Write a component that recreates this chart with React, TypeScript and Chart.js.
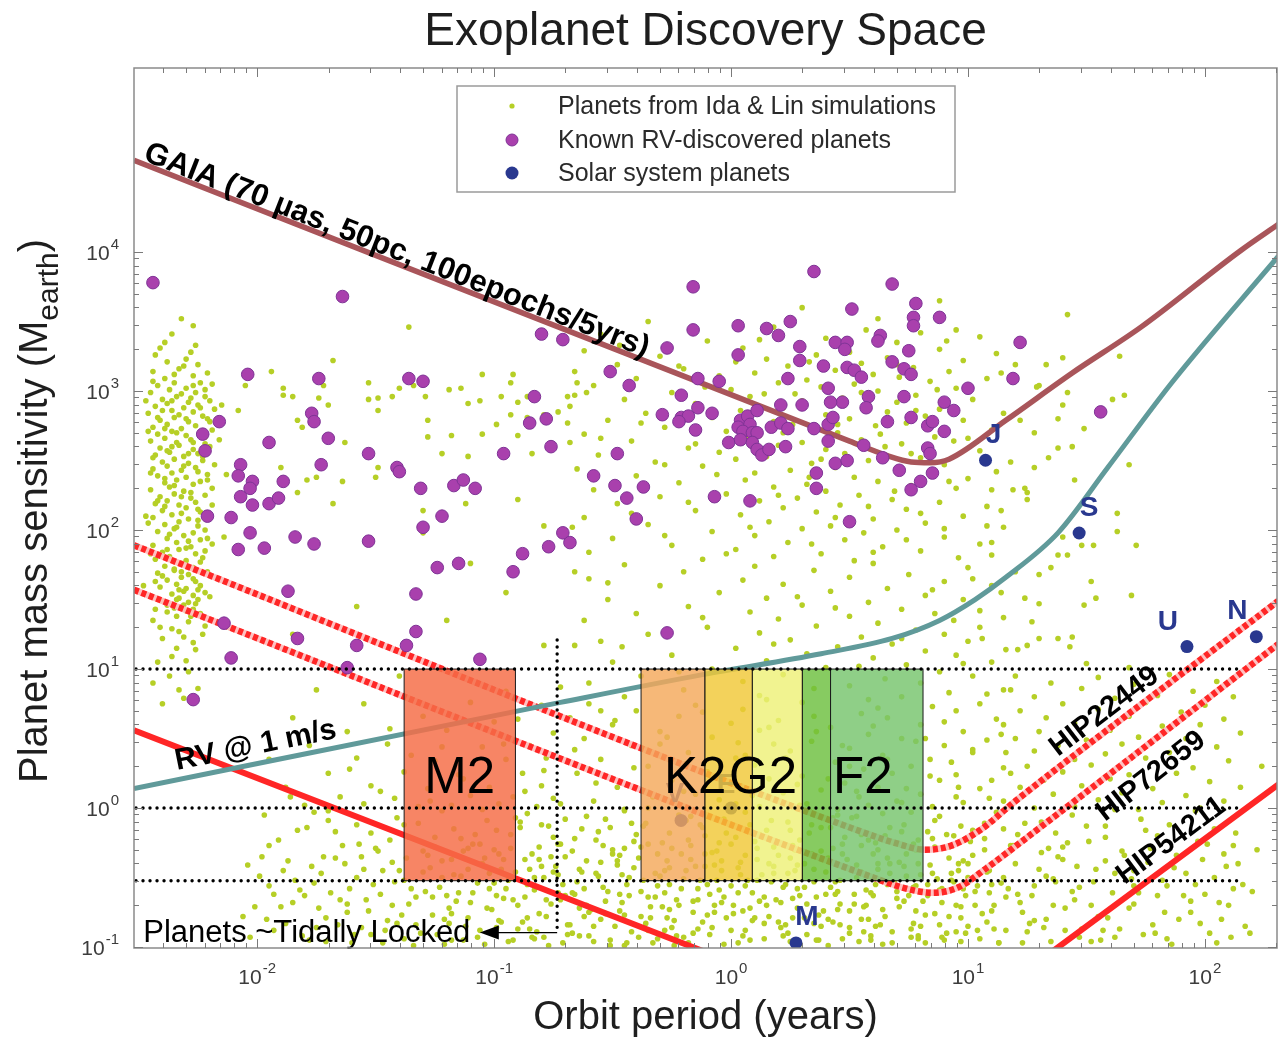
import React, { useEffect, useRef } from "react";
import { Chart, registerables } from "chart.js";

Chart.register(...registerables);

// ---------------- axis ranges (period in years, mass in Earth masses) ----------------
const X_MIN = 0.00302;
const X_MAX = 201.5;
const Y_MIN = 0.0984;
const Y_MAX = 211000;
const X_TICK_EXPONENTS = [-2, -1, 0, 1, 2];
const Y_TICK_EXPONENTS = [-1, 0, 1, 2, 3, 4];

const TITLE = "Exoplanet Discovery Space";
const X_TITLE = "Orbit period (years)";
const Y_TITLE_MAIN = "Planet mass sensitivity (M";
const Y_TITLE_SUB = "earth";
const LEGEND_LABELS = [
  "Planets from Ida & Lin simulations",
  "Known RV-discovered planets",
  "Solar system planets",
];

// ---------------- solar system planets ----------------
const SOLAR_NAMES = ["V", "E", "M", "J", "S", "U", "N"];
const SOLAR_PERIOD = [0.615, 1.0, 1.88, 11.86, 29.46, 84.0, 164.8];
const SOLAR_MASS = [0.815, 1.0, 0.107, 317.8, 95.2, 14.5, 17.1];

// ---------------- sensitivity curves: [log10 period, log10 mass] ----------------
const GAIA_CURVE = [
  [-2.52, 4.66], [0.5, 2.64], [0.66, 2.535], [0.76, 2.49], [0.84, 2.485], [0.92, 2.51],
  [1.16, 2.79], [1.44, 3.13], [1.73, 3.46], [2.15, 4.01], [2.31, 4.2],
];
const RV_CURVE = [
  [-2.52, 0.14], [-0.72, 0.76], [-0.12, 0.96], [0.38, 1.11], [0.68, 1.22], [0.88, 1.35],
  [1.03, 1.5], [1.16, 1.66], [1.38, 1.98], [1.59, 2.45], [1.86, 3.06], [2.31, 3.97],
];
const HIP22449_CURVE = [
  [-2.52, 1.89], [0.55, -0.17], [0.7, -0.255], [0.82, -0.3], [0.93, -0.27], [1.05, -0.16],
  [1.2, 0.05], [2.31, 1.49],
];
const HIP72659_CURVE = [
  [-2.52, 1.57], [0.6, -0.5], [0.74, -0.58], [0.85, -0.61], [0.96, -0.57], [1.08, -0.43],
  [1.22, -0.25], [2.31, 1.18],
];
const HIP54211_CURVE = [[-2.52, 0.56], [0.85, -1.67], [2.31, 0.17]];

// ---------------- habitable-zone boxes ----------------
const HZ_MASS_RANGE = [0.3, 10];
const M2_PERIOD_EDGES = [0.0417, 0.123];
const HZ_PERIOD_EDGES = [0.417, 0.776, 1.23, 2.0, 2.63, 6.46];
const HZ_LABELS = ["K2", "G2", "F2"];
const HZ_LABEL_PERIOD = [0.705, 1.365, 3.6];
const REF_MASS_LINES = [10, 1, 0.3];
const REF_LINE_END_PERIOD = 140;
const TIDAL_PERIOD = 0.1845;
const TIDAL_MASS_RANGE = [0.127, 16.2];
const TIDAL_ARROW_TIP = 0.087;

// ---------------- known RV planets: [log10 P, log10 M] ----------------
const RV_PLANETS = [
  [-2.44, 3.78], [-1.64, 3.68], [-0.8, 3.41], [-0.71, 3.37], [-2.04, 3.12], [-1.74, 3.09], [-1.36, 3.09], [-1.3, 3.07],
  [-0.83, 2.96], [-2.16, 2.78], [-1.77, 2.84], [-1.76, 2.78], [-0.85, 2.77], [-0.78, 2.8], [-2.23, 2.69], [-2.22, 2.57],
  [-1.95, 2.63], [-1.7, 2.66], [-0.76, 2.6], [-1.53, 2.55], [-1.73, 2.47], [-0.96, 2.55], [-2.07, 2.47], [-2.08, 2.39],
  [-2.02, 2.35], [-2.03, 2.3], [-1.89, 2.35], [-1.41, 2.45], [-1.4, 2.42], [-1.31, 2.3], [-1.17, 2.32], [-1.13, 2.36],
  [-1.08, 2.3], [-2.07, 2.24], [-2.02, 2.18], [-1.95, 2.19], [-1.91, 2.23], [-2.21, 2.1], [-2.11, 2.09], [-1.22, 2.1],
  [-1.3, 2.02], [-2.03, 1.98], [-1.84, 1.95], [-1.76, 1.9], [-1.53, 1.92], [-2.08, 1.86], [-1.97, 1.87], [-0.71, 1.98],
  [-0.68, 1.91], [-0.77, 1.88], [-0.88, 1.83], [-1.24, 1.73], [-1.15, 1.76], [-0.92, 1.7], [-1.87, 1.56], [-1.33, 1.54],
  [-2.14, 1.33], [-1.33, 1.27], [-1.83, 1.22], [-1.58, 1.17], [-1.37, 1.17], [-2.11, 1.08], [-1.06, 1.07], [-1.62, 1.01],
  [-2.27, 0.78], [0.35, 3.86], [-0.16, 3.75], [0.68, 3.77], [0.78, 3.63], [0.51, 3.59], [0.77, 3.53], [0.77, 3.47],
  [0.88, 3.53], [-0.16, 3.44], [0.03, 3.47], [0.15, 3.45], [0.25, 3.5], [0.2, 3.4], [-0.27, 3.31], [0.29, 3.32],
  [0.44, 3.35], [0.49, 3.35], [0.48, 3.3], [0.63, 3.4], [0.62, 3.36], [0.75, 3.29], [1.22, 3.35], [0.03, 3.26],
  [0.29, 3.22], [0.68, 3.21], [0.39, 3.18], [0.49, 3.17], [0.52, 3.15], [0.55, 3.1], [0.73, 3.16], [0.76, 3.12],
  [1.19, 3.09], [-0.51, 3.14], [-0.14, 3.09], [-0.05, 3.07], [0.24, 3.09], [-0.43, 3.04], [0.41, 3.02], [1.0, 3.02],
  [-0.21, 2.97], [0.58, 2.96], [0.73, 2.96], [0.9, 2.92], [0.47, 2.92], [0.42, 2.92], [0.21, 2.9], [0.3, 2.9],
  [0.57, 2.88], [-0.14, 2.88], [0.94, 2.86], [-0.29, 2.83], [-0.21, 2.81], [-0.18, 2.82], [-0.22, 2.78], [-0.08, 2.84],
  [0.04, 2.79], [0.07, 2.82], [0.11, 2.86], [0.03, 2.74], [0.08, 2.76], [0.05, 2.71], [0.09, 2.7], [0.11, 2.7],
  [-0.15, 2.72], [0.17, 2.74], [0.21, 2.77], [0.24, 2.73], [0.35, 2.73], [0.41, 2.76], [0.43, 2.81], [0.66, 2.78],
  [0.76, 2.81], [0.83, 2.75], [0.85, 2.78], [0.9, 2.71], [0.56, 2.61], [0.41, 2.64], [-0.01, 2.63], [0.04, 2.65],
  [0.09, 2.63], [0.11, 2.58], [0.13, 2.54], [0.16, 2.58], [0.23, 2.6], [-0.48, 2.55], [0.83, 2.59], [0.84, 2.55],
  [0.64, 2.52], [0.44, 2.48], [0.49, 2.5], [0.71, 2.43], [0.85, 2.41], [0.8, 2.35], [0.76, 2.29], [0.36, 2.41],
  [0.36, 2.3], [-0.58, 2.39], [-0.49, 2.32], [-0.37, 2.31], [-0.44, 2.23], [-0.07, 2.24], [0.08, 2.21], [-0.4, 2.08],
  [0.5, 2.06], [1.56, 2.85], [-0.27, 1.26],
];

// ---------------- simulated planets (Ida & Lin): [log10 P, log10 M] ----------------
const SIM_HOT = [
  [-2.36, 3.41], [-2.41, 3.31], [-2.28, 3.28], [-2.3, 3.23], [-2.25, 3.19], [-2.38, 3.21], [-2.44, 3.14], [-2.33, 3.16],
  [-2.21, 3.13], [-2.39, 3.09], [-2.27, 3.11], [-2.24, 3.06], [-2.42, 3.04], [-2.35, 3.06], [-2.3, 3.02], [-2.19, 3.05],
  [-2.45, 2.99], [-2.37, 3.01], [-2.32, 2.98], [-2.26, 2.99], [-2.22, 2.96], [-2.4, 2.94], [-2.34, 2.96], [-2.29, 2.92],
  [-2.2, 2.93], [-2.43, 2.89], [-2.38, 2.91], [-2.31, 2.88], [-2.25, 2.9], [-2.18, 2.87], [-2.46, 2.84], [-2.36, 2.86],
  [-2.33, 2.83], [-2.27, 2.85], [-2.23, 2.82], [-2.41, 2.79], [-2.35, 2.81], [-2.29, 2.78], [-2.21, 2.8], [-2.44, 2.74],
  [-2.38, 2.76], [-2.32, 2.73], [-2.26, 2.75], [-2.19, 2.72], [-2.42, 2.69], [-2.36, 2.71], [-2.3, 2.68], [-2.24, 2.7],
  [-2.45, 2.64], [-2.39, 2.66], [-2.34, 2.63], [-2.28, 2.65], [-2.22, 2.62], [-2.41, 2.59], [-2.33, 2.61], [-2.27, 2.58],
  [-2.2, 2.6], [-2.43, 2.54], [-2.37, 2.56], [-2.31, 2.53], [-2.25, 2.55], [-2.4, 2.49], [-2.35, 2.51], [-2.29, 2.48],
  [-2.23, 2.5], [-2.18, 2.47], [-2.44, 2.44], [-2.38, 2.46], [-2.32, 2.43], [-2.26, 2.45], [-2.42, 2.39], [-2.36, 2.41],
  [-2.3, 2.38], [-2.21, 2.4], [-2.39, 2.34], [-2.34, 2.36], [-2.27, 2.33], [-2.24, 2.35], [-2.45, 2.29], [-2.37, 2.31],
  [-2.31, 2.28], [-2.19, 2.3], [-2.41, 2.24], [-2.35, 2.26], [-2.28, 2.23], [-2.22, 2.25], [-2.43, 2.19], [-2.38, 2.21],
  [-2.33, 2.18], [-2.26, 2.2], [-2.4, 2.14], [-2.3, 2.16], [-2.24, 2.13], [-2.44, 2.09], [-2.36, 2.11], [-2.29, 2.08],
  [-2.2, 2.1], [-2.39, 2.04], [-2.33, 2.06], [-2.25, 2.03], [-2.42, 1.99], [-2.35, 2.01], [-2.27, 1.98], [-2.22, 2.0],
  [-2.38, 1.94], [-2.31, 1.96], [-2.24, 1.93], [-2.44, 1.89], [-2.34, 1.91], [-2.28, 1.88], [-2.19, 1.9], [-2.4, 1.84],
  [-2.33, 1.86], [-2.26, 1.83], [-2.43, 1.79], [-2.37, 1.81], [-2.3, 1.78], [-2.23, 1.8], [-2.39, 1.74], [-2.32, 1.76],
  [-2.27, 1.73], [-2.42, 1.69], [-2.35, 1.71], [-2.29, 1.68], [-2.21, 1.7], [-2.38, 1.64], [-2.32, 1.66], [-2.26, 1.63],
  [-2.41, 1.59], [-2.34, 1.61], [-2.3, 1.58], [-2.24, 1.6], [-2.36, 1.54], [-2.31, 1.56], [-2.27, 1.53], [-2.22, 1.55],
  [-2.4, 1.49], [-2.33, 1.51], [-2.29, 1.48], [-2.25, 1.5], [-2.35, 1.44], [-2.31, 1.46], [-2.27, 1.43], [-2.38, 1.41],
  [-2.3, 1.42], [-2.24, 1.4], [-2.44, 1.35], [-2.29, 1.34], [-2.36, 1.29], [-2.22, 1.31], [-2.4, 1.22], [-2.31, 1.23],
  [-2.34, 1.15], [-2.26, 1.14], [-2.42, 1.05], [-2.3, 1.06], [-2.37, 0.95], [-2.33, 0.85], [-2.25, 0.86], [-2.4, 0.75],
  [-2.47, 2.1], [-2.48, 1.6], [-2.15, 2.9], [-2.13, 2.4], [-2.14, 1.95], [-2.12, 1.3], [-2.32, 3.52], [-2.27, 3.47],
];
const SIM_HOT_EXTRA = [
  [-2.43, 3.26], [-2.26, 3.33], [-2.35, 3.12], [-2.22, 3.01], [-2.47, 2.93], [-2.28, 2.95], [-2.4, 2.86], [-2.2, 2.78],
  [-2.34, 2.7], [-2.46, 2.71], [-2.27, 2.63], [-2.38, 2.57], [-2.23, 2.53], [-2.31, 2.46], [-2.45, 2.41], [-2.21, 2.36],
  [-2.35, 2.32], [-2.28, 2.27], [-2.42, 2.21], [-2.19, 2.18], [-2.32, 2.12], [-2.46, 2.05], [-2.25, 2.07], [-2.37, 1.97],
  [-2.21, 1.94], [-2.3, 1.87], [-2.45, 1.83], [-2.24, 1.77], [-2.35, 1.72], [-2.27, 1.65], [-2.43, 1.63], [-2.33, 1.57],
  [-2.2, 1.52], [-2.38, 1.46], [-2.28, 1.38], [-2.41, 1.3], [-2.33, 1.27], [-2.27, 1.19], [-2.36, 1.09], [-2.29, 0.98],
  [-2.44, 0.9], [-2.31, 0.79], [-2.39, 3.35], [-2.31, 3.18], [-2.44, 3.07], [-2.27, 3.04], [-2.36, 2.93], [-2.24, 2.88],
  [-2.42, 2.81], [-2.3, 2.8], [-2.39, 2.73], [-2.22, 2.67], [-2.36, 2.6], [-2.29, 2.55], [-2.44, 2.52], [-2.25, 2.42],
  [-2.39, 2.37], [-2.32, 2.24], [-2.25, 2.15], [-2.39, 2.17], [-2.34, 2.02], [-2.29, 1.92], [-2.38, 1.86], [-2.22, 1.85],
  [-2.32, 1.7], [-2.4, 1.67], [-2.25, 1.57], [-2.34, 1.5], [-2.26, 1.47], [-2.43, 1.43], [-2.34, 1.38], [-2.23, 1.25],
];
const SIM_UPPER_LEFT = [
  [-1.36, 3.46], [-1.68, 3.22], [-1.94, 3.14], [-2.05, 3.04], [-1.72, 3.04], [-1.89, 3.02], [-1.89, 2.97], [-1.85, 2.96],
  [-1.74, 2.95], [-1.7, 2.9], [-2.08, 2.86], [-1.53, 3.06], [-1.49, 2.95], [-1.53, 2.94], [-1.43, 2.96], [-1.4, 3.02],
  [-1.34, 3.04], [-1.49, 2.86], [-1.19, 3.01], [-1.14, 3.02], [-1.11, 2.91], [-1.05, 3.12], [-1.06, 2.93], [-0.92, 3.12],
  [-0.93, 3.06], [-0.97, 2.96], [-0.9, 2.92], [-0.86, 2.96], [-0.86, 2.81], [-0.93, 2.83], [-0.99, 2.76], [-0.79, 2.83],
  [-0.73, 2.85], [-0.69, 2.96], [-0.65, 3.06], [-0.66, 2.97], [-0.69, 2.77], [-0.68, 2.63], [-0.84, 2.55], [-0.9, 2.68],
  [-1.05, 2.69], [-1.18, 2.68], [-1.11, 2.53], [-1.22, 2.55], [-1.28, 2.79], [-1.28, 2.67], [-1.3, 2.14], [-1.3, 1.98],
  [-1.12, 2.19], [-0.9, 2.22], [-0.79, 2.03], [-0.67, 2.02], [-1.1, 1.76], [-0.66, 1.7], [-1.64, 2.35], [-1.63, 2.63],
  [-1.79, 2.36], [-1.75, 2.38], [-1.83, 2.27], [-1.9, 2.45], [-1.68, 2.19], [-1.49, 2.45], [-1.5, 2.38], [-1.83, 2.79],
  [-1.81, 2.74], [-1.29, 2.96], [-2.16, 2.65], [-0.79, 1.17], [-0.66, 1.17], [-0.72, 0.87], [-1.58, 1.45], [-1.2, 1.35],
  [-0.95, 1.55], [-1.85, 1.25],
];
const SIM_CLOUD = [
  [-0.35, 3.5], [0.62, 3.52], [0.18, 3.46], [0.95, 3.44], [-0.55, 3.41], [0.4, 3.38], [0.8, 3.42], [1.05, 3.39],
  [-0.1, 3.36], [0.28, 3.33], [0.7, 3.35], [-0.62, 3.29], [0.05, 3.31], [0.5, 3.28], [0.88, 3.3], [1.12, 3.27],
  [-0.3, 3.25], [0.15, 3.23], [0.36, 3.26], [0.66, 3.24], [0.98, 3.22], [-0.48, 3.19], [0.02, 3.21], [0.24, 3.18],
  [0.55, 3.2], [0.77, 3.17], [1.2, 3.19], [-0.66, 3.14], [-0.2, 3.16], [0.1, 3.13], [0.44, 3.15], [0.6, 3.12],
  [0.92, 3.14], [-0.4, 3.09], [-0.05, 3.11], [0.32, 3.08], [0.71, 3.1], [0.84, 3.07], [1.08, 3.09], [-0.58, 3.04],
  [0.2, 3.06], [0.38, 3.03], [0.52, 3.05], [0.95, 3.02], [1.3, 3.04], [-0.25, 2.99], [0.0, 3.01], [0.14, 2.98],
  [0.62, 3.0], [0.78, 2.97], [-0.45, 2.94], [0.08, 2.96], [0.3, 2.93], [0.47, 2.95], [0.7, 2.92], [1.02, 2.94],
  [-0.68, 2.89], [-0.15, 2.91], [0.22, 2.88], [0.58, 2.9], [0.88, 2.87], [-0.36, 2.84], [0.04, 2.86], [0.4, 2.83],
  [0.66, 2.85], [0.82, 2.82], [1.15, 2.84], [-0.52, 2.79], [-0.08, 2.81], [0.18, 2.78], [0.5, 2.8], [0.74, 2.77],
  [0.98, 2.79], [-0.28, 2.74], [0.26, 2.76], [0.35, 2.73], [0.61, 2.75], [1.1, 2.72], [-0.62, 2.69], [-0.02, 2.71],
  [0.12, 2.68], [0.45, 2.7], [0.86, 2.67], [-0.42, 2.64], [0.07, 2.66], [0.3, 2.63], [0.55, 2.65], [0.72, 2.62],
  [0.94, 2.64], [-0.18, 2.59], [0.2, 2.61], [0.4, 2.58], [0.65, 2.6], [1.05, 2.57], [-0.56, 2.54], [-0.05, 2.56],
  [0.15, 2.53], [0.48, 2.55], [0.8, 2.52], [-0.32, 2.49], [0.02, 2.51], [0.34, 2.48], [0.58, 2.5], [0.9, 2.47],
  [1.18, 2.49], [-0.65, 2.44], [-0.12, 2.46], [0.25, 2.43], [0.44, 2.45], [0.7, 2.42], [-0.4, 2.39], [0.1, 2.41],
  [0.52, 2.38], [0.84, 2.4], [1.0, 2.37], [-0.22, 2.34], [0.06, 2.36], [0.32, 2.33], [0.62, 2.35], [0.76, 2.32],
  [-0.58, 2.29], [0.18, 2.31], [0.4, 2.28], [0.95, 2.3], [1.25, 2.27], [-0.3, 2.24], [-0.02, 2.26], [0.28, 2.23],
  [0.54, 2.25], [0.68, 2.22], [-0.48, 2.19], [0.12, 2.21], [0.46, 2.18], [0.88, 2.2], [1.08, 2.17], [-0.15, 2.14],
  [0.22, 2.16], [0.36, 2.13], [0.74, 2.15], [-0.62, 2.09], [0.04, 2.11], [0.6, 2.08], [0.98, 2.1], [-0.35, 2.04],
  [0.16, 2.06], [0.42, 2.03], [0.82, 2.05], [1.15, 2.02], [-0.08, 1.99], [0.3, 2.01], [0.56, 1.98], [0.7, 2.0],
  [-0.5, 1.94], [0.1, 1.96], [0.48, 1.93], [0.9, 1.95], [-0.25, 1.89], [0.24, 1.91], [0.64, 1.88], [1.05, 1.9],
  [-0.6, 1.84], [0.02, 1.86], [0.38, 1.83], [0.8, 1.85], [-0.12, 1.79], [0.18, 1.81], [0.52, 1.78], [0.96, 1.8],
  [0.3, 3.6], [0.88, 3.65],
];
const SIM_CLOUD_EXTRA = [
  [-0.47, 3.33], [0.12, 3.37], [0.57, 3.44], [0.91, 3.36], [-0.22, 3.18], [0.33, 3.21], [0.7, 3.19], [1.14, 3.13],
  [-0.61, 2.99], [-0.11, 3.03], [0.27, 2.98], [0.55, 2.99], [0.87, 3.01], [-0.38, 2.77], [0.09, 2.84], [0.45, 2.76],
  [0.78, 2.86], [1.22, 2.79], [-0.55, 2.66], [-0.15, 2.62], [0.22, 2.7], [0.63, 2.69], [1.0, 2.66], [-0.28, 2.47],
  [0.14, 2.57], [0.38, 2.51], [0.76, 2.55], [1.12, 2.42], [-0.48, 2.33], [-0.06, 2.4], [0.33, 2.38], [0.69, 2.28],
  [0.92, 2.35], [-0.18, 2.2], [0.2, 2.25], [0.58, 2.17], [0.8, 2.12], [-0.42, 2.12], [0.08, 2.02], [0.44, 2.09],
  [0.9, 2.01], [-0.28, 1.96], [0.34, 1.9], [0.74, 1.93], [-0.02, 1.83], [0.6, 1.84], [1.1, 1.82],
];
const SIM_MID = [
  [-0.45, 1.75], [0.1, 1.74], [0.6, 1.76], [1.0, 1.73], [-0.2, 1.7], [0.35, 1.71], [0.75, 1.68], [1.2, 1.7],
  [-0.6, 1.65], [0.05, 1.64], [0.5, 1.66], [0.9, 1.63], [-0.3, 1.6], [0.22, 1.61], [0.66, 1.58], [1.1, 1.6],
  [-0.05, 1.55], [0.42, 1.56], [0.82, 1.53], [-0.52, 1.5], [0.15, 1.51], [0.58, 1.48], [0.98, 1.5], [1.3, 1.47],
  [-0.18, 1.45], [0.3, 1.46], [0.72, 1.43], [-0.4, 1.4], [0.08, 1.41], [0.5, 1.38], [0.86, 1.4], [1.15, 1.37],
  [-0.62, 1.35], [0.2, 1.36], [0.62, 1.33], [0.94, 1.35], [-0.1, 1.3], [0.36, 1.31], [0.78, 1.28], [1.05, 1.3],
  [-0.35, 1.25], [0.12, 1.26], [0.55, 1.23], [0.9, 1.25], [-0.55, 1.2], [0.25, 1.21], [0.68, 1.18], [1.0, 1.2],
  [1.25, 1.17], [0.02, 1.15], [0.45, 1.16], [0.82, 1.13], [-0.25, 1.1], [0.32, 1.11], [0.6, 1.08], [0.95, 1.1],
  [-0.5, 1.05], [0.15, 1.06], [0.74, 1.03], [1.1, 1.05], [-0.08, 1.0], [0.4, 1.01], [0.88, 0.98], [-0.38, 0.95],
  [0.22, 0.96], [0.65, 0.93], [1.02, 0.95], [-0.6, 0.9], [0.05, 0.91], [0.5, 0.88], [0.8, 0.9], [-0.2, 0.85],
  [0.35, 0.86], [0.92, 0.83], [1.15, 0.85], [-0.45, 0.8], [0.12, 0.81], [0.58, 0.78], [0.72, 0.8],
  [-0.52, 1.62], [0.28, 1.52], [0.85, 1.57], [-0.12, 1.37], [0.44, 1.44], [1.05, 1.42], [-0.46, 1.16], [0.18, 1.18],
  [0.72, 1.22], [-0.22, 0.98], [0.54, 1.02], [0.98, 1.04],
];
const SIM_LOW_LEFT = [
  [-1.4, 0.95], [-1.75, 0.85], [-0.95, 0.84], [-1.55, 0.75], [-1.1, 0.76], [-0.8, 0.74], [-1.85, 0.65], [-1.3, 0.66],
  [-0.9, 0.64], [-1.62, 0.55], [-1.2, 0.56], [-0.75, 0.54], [-1.78, 0.45], [-1.45, 0.46], [-1.05, 0.44], [-0.85, 0.45],
  [-1.95, 0.35], [-1.58, 0.36], [-1.25, 0.34], [-0.95, 0.35], [-0.78, 0.36], [-1.7, 0.25], [-1.38, 0.26], [-1.15, 0.24],
  [-0.88, 0.25], [-1.88, 0.15], [-1.52, 0.16], [-1.28, 0.14], [-1.02, 0.15], [-0.8, 0.16], [-1.65, 0.08], [-1.42, 0.07],
  [-1.1, 0.09], [-0.92, 0.08], [-0.75, 0.07], [-1.8, 0.02], [-1.55, 0.03], [-1.32, 0.01], [-1.18, 0.02], [-0.98, 0.03],
  [-0.82, 0.01], [-1.86, 0.08], [-1.7, -0.02], [-1.61, 0.28], [-1.48, 0.12], [-1.35, 0.38], [-1.27, 0.05], [-1.13, 0.21],
  [-1.05, -0.01], [-0.96, 0.46], [-0.87, 0.12], [-0.79, 0.27], [-0.72, 0.03], [-1.22, 0.44], [-1.44, 0.57], [-1.0, 0.62],
];
const SIM_LOW_MID = [
  [-0.6, 0.75], [-0.15, 0.74], [0.3, 0.76], [0.85, 0.73], [1.05, 0.75], [-0.4, 0.7], [0.05, 0.71], [0.55, 0.68],
  [0.95, 0.7], [-0.68, 0.65], [-0.22, 0.66], [0.2, 0.63], [0.66, 0.65], [1.12, 0.64], [-0.5, 0.6], [0.0, 0.61],
  [0.42, 0.58], [0.8, 0.6], [-0.3, 0.55], [0.12, 0.56], [0.58, 0.53], [0.98, 0.55], [-0.62, 0.5], [-0.08, 0.51],
  [0.34, 0.48], [0.72, 0.5], [1.08, 0.49], [-0.42, 0.45], [0.18, 0.46], [0.5, 0.43], [0.9, 0.45], [-0.18, 0.4],
  [0.25, 0.41], [0.64, 0.38], [1.02, 0.4], [-0.55, 0.35], [0.02, 0.36], [0.44, 0.33], [0.84, 0.35], [-0.35, 0.3],
  [0.1, 0.31], [0.56, 0.28], [0.76, 0.3], [1.15, 0.29], [-0.65, 0.25], [-0.1, 0.26], [0.3, 0.23], [0.68, 0.25],
  [0.95, 0.24], [-0.25, 0.2], [0.16, 0.21], [0.48, 0.18], [0.88, 0.2], [-0.48, 0.15], [0.04, 0.16], [0.38, 0.13],
  [0.62, 0.15], [1.05, 0.14], [-0.15, 0.1], [0.22, 0.11], [0.54, 0.08], [0.8, 0.1], [-0.58, 0.05], [-0.05, 0.06],
  [0.32, 0.03], [0.7, 0.05], [0.98, 0.04], [-0.35, 0.0], [0.12, 0.01], [0.45, -0.01], [0.85, 0.01],
  [-0.55, 0.7], [0.15, 0.78], [0.62, 0.72], [1.08, 0.82], [-0.3, 0.46], [0.36, 0.55], [0.82, 0.5], [-0.6, 0.28],
  [0.06, 0.38], [0.5, 0.3], [0.93, 0.33], [-0.2, 0.12], [0.28, 0.17], [0.74, 0.14], [1.1, 0.2], [-0.45, -0.02],
  [0.02, 0.03], [0.58, 0.02], [0.95, 0.08],
  [-0.66, 0.42], [-0.57, 0.18], [-0.49, 0.63], [-0.41, 0.29], [-0.33, 0.08], [-0.27, 0.51], [-0.19, 0.32], [-0.12, 0.69],
  [-0.04, 0.22], [0.03, 0.47], [0.09, 0.09], [0.16, 0.58], [0.23, 0.36], [0.29, 0.02], [0.35, 0.66], [0.41, 0.21],
  [0.47, 0.45], [0.53, 0.12], [0.6, 0.59], [0.66, 0.35], [0.72, 0.04], [0.78, 0.48], [0.84, 0.23], [0.9, 0.62],
  [0.96, 0.15], [1.02, 0.42], [1.09, 0.07], [1.14, 0.53],
];
const SIM_RIGHT = [
  [1.42, 3.55], [1.64, 3.25], [1.66, 2.97], [1.61, 2.94], [1.4, 3.24], [1.33, 3.19], [1.29, 3.03], [1.42, 2.99],
  [1.4, 2.9], [1.38, 2.8], [1.49, 2.73], [1.28, 2.7], [1.38, 2.59], [1.44, 2.6], [1.34, 2.52], [1.28, 2.45],
  [1.45, 2.36], [1.68, 2.47], [1.24, 2.3], [1.25, 2.22], [1.19, 2.29], [1.14, 2.14], [1.1, 2.29], [1.63, 2.12],
  [1.63, 1.99], [1.71, 1.89], [1.53, 1.89], [1.48, 1.89], [1.4, 1.95], [1.38, 1.82], [1.42, 1.82], [1.3, 1.68],
  [1.35, 1.73], [1.52, 1.63], [1.54, 1.51], [1.49, 1.46], [1.69, 1.53], [1.24, 1.51], [1.14, 1.55], [1.1, 1.91],
  [1.08, 2.03], [1.02, 1.65], [1.27, 1.34], [1.3, 1.22], [1.38, 1.22], [1.44, 1.23], [1.43, 1.16], [1.06, 1.22],
  [1.16, 1.14], [1.21, 1.14], [1.5, 1.04], [1.68, 1.01],
  [1.2, 0.95], [1.55, 0.94], [1.85, 0.96], [1.35, 0.9], [1.7, 0.89], [2.05, 0.91], [1.18, 0.85], [1.48, 0.86],
  [1.95, 0.84], [1.28, 0.8], [1.62, 0.79], [1.8, 0.81], [2.12, 0.8], [1.4, 0.75], [1.75, 0.76], [2.0, 0.74],
  [1.22, 0.7], [1.55, 0.71], [1.9, 0.69], [1.33, 0.65], [1.68, 0.66], [2.08, 0.64], [1.15, 0.6], [1.45, 0.61],
  [1.82, 0.59], [1.98, 0.6], [1.3, 0.55], [1.6, 0.56], [2.15, 0.54], [1.2, 0.5], [1.5, 0.49], [1.72, 0.51],
  [1.92, 0.5], [1.38, 0.45], [1.65, 0.46], [2.05, 0.44], [1.16, 0.4], [1.28, 0.41], [1.58, 0.39], [1.85, 0.4],
  [1.45, 0.35], [1.75, 0.36], [2.1, 0.34], [1.25, 0.3], [1.52, 0.31], [1.95, 0.29], [1.18, 0.25], [1.4, 0.26],
  [1.68, 0.24], [1.88, 0.25], [1.32, 0.2], [1.6, 0.21], [2.02, 0.19], [1.22, 0.15], [1.48, 0.16], [1.78, 0.14],
  [2.15, 0.15], [1.36, 0.1], [1.65, 0.11], [1.92, 0.09], [1.15, 0.05], [1.55, 0.06], [1.82, 0.04], [2.08, 0.05],
  [1.28, 0.0], [1.45, 0.01], [1.72, -0.01], [1.98, 0.0], [2.2, -0.6], [2.22, -0.3], [2.19, -0.9], [2.24, 0.3],
];
const SIM_BAND_1 = [
  [-1.97, -0.05], [-1.83, -0.16], [-1.76, -0.03], [-1.64, -0.27], [-1.58, -0.12], [-1.49, -0.31], [-1.41, -0.07], [-1.36, -0.21],
  [-1.28, -0.34], [-1.22, -0.02], [-1.17, -0.15], [-1.09, -0.26], [-1.03, -0.09], [-0.98, -0.33], [-0.93, -0.19], [-0.86, -0.04],
  [-0.81, -0.28], [-0.77, -0.13], [-0.7, -0.35], [-0.66, -0.22], [-0.61, -0.06], [-0.56, -0.17], [-0.5, -0.3], [-0.45, -0.01],
  [-0.41, -0.24], [-0.36, -0.11], [-0.31, -0.33], [-0.26, -0.18], [-0.22, -0.05], [-0.17, -0.27], [-0.12, -0.14], [-0.08, -0.32],
  [-0.03, -0.08], [0.02, -0.21], [0.06, -0.03], [0.11, -0.29], [0.15, -0.16], [0.2, -0.34], [0.24, -0.1], [0.29, -0.23],
  [0.33, -0.02], [0.38, -0.31], [0.42, -0.14], [0.47, -0.26], [0.51, -0.07], [0.55, -0.19], [0.6, -0.33], [0.64, -0.04],
  [0.69, -0.25], [0.73, -0.12], [0.78, -0.3], [0.83, -0.17], [0.88, -0.06], [0.92, -0.28], [0.97, -0.13], [1.02, -0.34],
  [1.07, -0.22], [1.12, -0.03], [1.18, -0.27], [1.24, -0.11], [1.31, -0.32], [1.37, -0.18], [1.44, -0.05], [1.51, -0.24],
  [1.58, -0.13], [1.65, -0.31], [1.73, -0.08], [1.8, -0.2], [1.88, -0.34], [1.96, -0.02], [2.04, -0.15], [2.12, -0.27],
  [-1.91, -0.23], [-1.7, -0.09], [-1.52, -0.18], [-1.32, -0.11], [-1.13, -0.31], [-0.89, -0.1], [-0.73, -0.26], [-0.53, -0.08],
  [-0.38, -0.28], [-0.19, -0.09], [-0.05, -0.25], [0.08, -0.12], [0.27, -0.3], [0.45, -0.05], [0.58, -0.23], [0.76, -0.03],
  [0.94, -0.2], [1.15, -0.15], [1.4, -0.28], [1.62, -0.01], [1.85, -0.12], [2.08, -0.33],
];
const SIM_BAND_2 = [
  [-2.04, -0.41], [-1.95, -0.56], [-1.87, -0.38], [-1.8, -0.63], [-1.73, -0.47], [-1.67, -0.36], [-1.61, -0.58], [-1.55, -0.44],
  [-1.48, -0.62], [-1.43, -0.39], [-1.38, -0.52], [-1.33, -0.64], [-1.27, -0.43], [-1.23, -0.57], [-1.18, -0.37], [-1.14, -0.49],
  [-1.09, -0.61], [-1.05, -0.4], [-1.0, -0.54], [-0.96, -0.65], [-0.91, -0.46], [-0.87, -0.37], [-0.83, -0.59], [-0.79, -0.5],
  [-0.74, -0.42], [-0.7, -0.63], [-0.65, -0.53], [-0.61, -0.38], [-0.57, -0.47], [-0.52, -0.6], [-0.48, -0.41], [-0.44, -0.55],
  [-0.39, -0.36], [-0.35, -0.64], [-0.3, -0.49], [-0.26, -0.43], [-0.21, -0.58], [-0.17, -0.37], [-0.13, -0.52], [-0.09, -0.62],
  [-0.04, -0.45], [0.0, -0.56], [0.04, -0.39], [0.09, -0.61], [0.13, -0.48], [0.18, -0.42], [0.22, -0.57], [0.26, -0.65],
  [0.31, -0.4], [0.35, -0.53], [0.4, -0.46], [0.44, -0.62], [0.49, -0.37], [0.53, -0.5], [0.57, -0.59], [0.62, -0.44],
  [0.66, -0.55], [0.71, -0.39], [0.75, -0.63], [0.8, -0.48], [0.84, -0.41], [0.89, -0.58], [0.93, -0.52], [0.98, -0.38],
  [1.03, -0.6], [1.08, -0.46], [1.14, -0.54], [1.2, -0.4], [1.27, -0.63], [1.33, -0.49], [1.4, -0.37], [1.47, -0.57],
  [1.54, -0.44], [1.61, -0.61], [1.69, -0.51], [1.76, -0.39], [1.84, -0.56], [1.92, -0.47], [2.0, -0.62], [2.09, -0.42],
  [2.16, -0.55], [-1.99, -0.49], [-1.76, -0.54], [-1.58, -0.5], [-1.4, -0.45], [-1.2, -0.63], [-1.02, -0.47], [-0.85, -0.44],
  [-0.67, -0.61], [-0.46, -0.48], [-0.28, -0.61], [-0.11, -0.42], [0.07, -0.52], [0.24, -0.47], [0.42, -0.57], [0.6, -0.63],
  [0.78, -0.56], [0.96, -0.45], [1.17, -0.58], [1.37, -0.53], [1.58, -0.38], [1.8, -0.63], [2.04, -0.5],
];
const SIM_BAND_3 = [
  [-2.01, -0.71], [-1.93, -0.88], [-1.85, -0.68], [-1.78, -0.95], [-1.71, -0.79], [-1.65, -0.66], [-1.59, -0.91], [-1.53, -0.74],
  [-1.47, -0.97], [-1.41, -0.83], [-1.36, -0.69], [-1.31, -0.9], [-1.26, -0.77], [-1.21, -0.98], [-1.16, -0.67], [-1.12, -0.85],
  [-1.07, -0.93], [-1.03, -0.72], [-0.98, -0.81], [-0.94, -0.96], [-0.9, -0.7], [-0.85, -0.87], [-0.81, -0.76], [-0.77, -0.99],
  [-0.72, -0.66], [-0.68, -0.84], [-0.64, -0.92], [-0.59, -0.73], [-0.55, -0.8], [-0.51, -0.95], [-0.46, -0.68], [-0.42, -0.89],
  [-0.38, -0.78], [-0.33, -0.97], [-0.29, -0.71], [-0.25, -0.86], [-0.2, -0.93], [-0.16, -0.67], [-0.12, -0.82], [-0.07, -0.75],
  [-0.03, -0.98], [0.01, -0.7], [0.06, -0.88], [0.1, -0.79], [0.14, -0.94], [0.19, -0.66], [0.23, -0.84], [0.28, -0.72],
  [0.32, -0.91], [0.37, -0.77], [0.41, -0.99], [0.46, -0.69], [0.5, -0.86], [0.55, -0.8], [0.59, -0.95], [0.64, -0.73],
  [0.68, -0.89], [0.73, -0.67], [0.77, -0.83], [0.82, -0.97], [0.86, -0.76], [0.91, -0.9], [0.95, -0.7], [1.0, -0.85],
  [1.05, -0.94], [1.1, -0.74], [1.16, -0.88], [1.22, -0.68], [1.28, -0.81], [1.35, -0.96], [1.41, -0.72], [1.48, -0.87],
  [1.55, -0.78], [1.62, -0.93], [1.7, -0.69], [1.78, -0.84], [1.86, -0.98], [1.94, -0.75], [2.02, -0.9], [2.1, -0.7],
  [2.17, -0.85], [-1.96, -0.8], [-1.74, -0.72], [-1.56, -0.86], [-1.38, -0.94], [-1.18, -0.76], [-1.0, -0.91], [-0.83, -0.94],
  [-0.62, -0.78], [-0.45, -0.99], [-0.27, -0.79], [-0.09, -0.91], [0.08, -0.72], [0.25, -0.96], [0.43, -0.82], [0.61, -0.85],
  [0.79, -0.92], [0.97, -0.79], [1.13, -0.97], [1.32, -0.86], [1.52, -0.96], [1.74, -0.91], [1.98, -0.83],
];
const SIM_BAND_4 = [
  [-1.93, -0.62], [-1.72, -0.35], [-1.66, -0.84], [-1.51, -0.55], [-1.44, -0.23], [-1.39, -0.77], [-1.3, -0.46], [-1.24, -0.91],
  [-1.15, -0.61], [-1.08, -0.19], [-1.01, -0.73], [-0.97, -0.44], [-0.9, -0.87], [-0.86, -0.55], [-0.8, -0.12], [-0.76, -0.69],
  [-0.71, -0.97], [-0.67, -0.31], [-0.62, -0.58], [-0.58, -0.85], [-0.55, -0.39], [-0.51, -0.14], [-0.47, -0.74], [-0.43, -0.5],
  [-0.39, -0.93], [-0.35, -0.26], [-0.32, -0.64], [-0.28, -0.45], [-0.24, -0.81], [-0.21, -0.33], [-0.18, -0.97], [-0.14, -0.58],
  [-0.11, -0.2], [-0.07, -0.7], [-0.04, -0.38], [0.0, -0.88], [0.03, -0.61], [0.07, -0.16], [0.11, -0.52], [0.14, -0.83],
  [0.18, -0.28], [0.21, -0.68], [0.24, -0.9], [0.28, -0.41], [0.31, -0.57], [0.34, -0.12], [0.38, -0.85], [0.41, -0.36],
  [0.45, -0.73], [0.48, -0.21], [0.52, -0.62], [0.55, -0.46], [0.59, -0.92], [0.62, -0.3], [0.65, -0.78], [0.69, -0.54],
  [0.72, -0.17], [0.76, -0.87], [0.79, -0.4], [0.83, -0.63], [0.86, -0.28], [0.9, -0.95], [0.93, -0.47], [0.97, -0.71],
  [1.01, -0.24], [1.04, -0.56], [1.08, -0.82], [1.12, -0.38], [1.16, -0.64], [1.21, -0.19], [1.25, -0.89], [1.3, -0.44],
  [1.36, -0.7], [1.42, -0.25], [1.47, -0.93], [1.53, -0.53], [1.59, -0.79], [1.66, -0.34], [1.72, -0.61], [1.79, -0.9],
  [1.87, -0.43], [1.94, -0.67], [2.01, -0.26], [2.07, -0.8], [2.14, -0.4],
  [-2.06, -0.78], [-1.89, -0.45], [-1.81, -0.92], [-1.62, -0.69], [-1.57, -0.26], [-1.46, -0.88], [-1.35, -0.58], [-1.19, -0.83],
  [-1.11, -0.29], [-0.99, -0.63], [-0.93, -0.29], [-0.82, -0.89], [-0.73, -0.48], [-0.64, -0.72], [-0.53, -0.67], [-0.45, -0.29],
  [-0.36, -0.83], [-0.26, -0.55], [-0.16, -0.75], [-0.06, -0.52], [0.05, -0.74], [0.16, -0.4], [0.26, -0.79], [0.36, -0.64],
  [0.47, -0.94], [0.57, -0.7], [0.67, -0.4], [0.78, -0.74], [0.88, -0.59], [0.99, -0.9], [1.1, -0.55], [1.23, -0.75],
  [1.34, -0.29], [1.45, -0.66], [1.57, -0.88], [1.7, -0.45], [1.83, -0.75], [1.96, -0.55], [2.11, -0.93],
];
const SIM_BAND_5 = [
  [-2.03, -0.93], [-1.98, -0.35], [-1.9, -0.71], [-1.84, -0.52], [-1.79, -0.14], [-1.75, -0.86], [-1.69, -0.61], [-1.63, -0.4],
  [-1.6, -0.97], [-1.54, -0.66], [-1.5, -0.29], [-1.45, -0.81], [-1.42, -0.53], [-1.37, -0.36], [-1.34, -0.99], [-1.29, -0.6],
  [-1.25, -0.21], [-1.21, -0.8], [-1.17, -0.48], [-1.13, -0.95], [-1.1, -0.68], [-1.06, -0.26], [-1.02, -0.58], [-0.99, -0.86],
  [-0.96, -0.37], [-0.92, -0.66], [-0.89, -0.14], [-0.86, -0.79], [-0.83, -0.5], [-0.79, -0.93], [-0.76, -0.35], [-0.73, -0.61],
  [-0.7, -0.08], [-0.67, -0.9], [-0.64, -0.44], [-0.61, -0.7], [-0.57, -0.23], [-0.54, -0.57], [-0.51, -0.99], [-0.48, -0.38],
  [-0.45, -0.77], [-0.42, -0.11], [-0.38, -0.6], [-0.35, -0.88], [-0.32, -0.47], [-0.29, -0.25], [-0.26, -0.73], [-0.23, -0.92],
  [-0.2, -0.51], [-0.17, -0.06], [-0.14, -0.66], [-0.11, -0.33], [-0.08, -0.86], [-0.05, -0.59], [-0.02, -0.18], [0.01, -0.76],
  [0.04, -0.48], [0.08, -0.95], [0.11, -0.37], [0.14, -0.64], [0.17, -0.09], [0.2, -0.82], [0.23, -0.55], [0.26, -0.27],
  [0.29, -0.98], [0.32, -0.69], [0.35, -0.44], [0.38, -0.14], [0.41, -0.8], [0.44, -0.53], [0.47, -0.33], [0.5, -0.74],
  [0.53, -0.06], [0.56, -0.89], [0.59, -0.61], [0.62, -0.4], [0.65, -0.2], [0.68, -0.97], [0.71, -0.71], [0.74, -0.49],
  [0.77, -0.26], [0.8, -0.85], [0.83, -0.55], [0.86, -0.09], [0.89, -0.68], [0.92, -0.36], [0.95, -0.89], [0.98, -0.58],
  [1.02, -0.16], [1.06, -0.76], [1.09, -0.45], [1.13, -0.97], [1.17, -0.32], [1.21, -0.62], [1.26, -0.83], [1.31, -0.1],
  [1.36, -0.51], [1.41, -0.88], [1.46, -0.42], [1.52, -0.7], [1.58, -0.21], [1.64, -0.87], [1.7, -0.56], [1.77, -0.29],
  [1.84, -0.94], [1.91, -0.63], [1.99, -0.37], [2.06, -0.68], [2.13, -0.18],
];
const SIM_BAND_6 = [
  [-1.95, -0.27], [-1.88, -0.83], [-1.82, -0.59], [-1.77, -0.42], [-1.71, -0.96], [-1.67, -0.17], [-1.62, -0.75], [-1.56, -0.35],
  [-1.52, -0.91], [-1.47, -0.45], [-1.43, -0.7], [-1.38, -0.12], [-1.33, -0.84], [-1.3, -0.31], [-1.26, -0.64], [-1.22, -0.38],
  [-1.18, -0.95], [-1.14, -0.22], [-1.11, -0.79], [-1.07, -0.54], [-1.04, -0.98], [-1.0, -0.3], [-0.97, -0.82], [-0.94, -0.52],
  [-0.91, -0.07], [-0.87, -0.64], [-0.84, -0.93], [-0.81, -0.37], [-0.78, -0.78], [-0.75, -0.46], [-0.72, -0.26], [-0.69, -0.84],
  [-0.66, -0.62], [-0.63, -0.15], [-0.6, -0.92], [-0.56, -0.49], [-0.53, -0.76], [-0.5, -0.33], [-0.47, -0.62], [-0.44, -0.97],
  [-0.41, -0.43], [-0.37, -0.13], [-0.34, -0.79], [-0.31, -0.56], [-0.28, -0.88], [-0.25, -0.29], [-0.22, -0.7], [-0.19, -0.45],
  [-0.16, -0.9], [-0.13, -0.12], [-0.1, -0.77], [-0.07, -0.41], [-0.03, -0.64], [0.0, -0.26], [0.03, -0.97], [0.06, -0.56],
  [0.09, -0.81], [0.12, -0.19], [0.15, -0.7], [0.18, -0.47], [0.22, -0.92], [0.25, -0.16], [0.28, -0.58], [0.31, -0.79],
  [0.34, -0.33], [0.37, -0.95], [0.4, -0.62], [0.43, -0.07], [0.46, -0.84], [0.49, -0.43], [0.52, -0.69], [0.55, -0.27],
  [0.58, -0.8], [0.61, -0.55], [0.64, -0.98], [0.67, -0.14], [0.7, -0.65], [0.73, -0.42], [0.76, -0.93], [0.79, -0.23],
  [0.82, -0.77], [0.85, -0.47], [0.88, -0.84], [0.91, -0.19], [0.94, -0.53], [0.97, -0.96], [1.0, -0.4], [1.03, -0.7],
  [1.07, -0.11], [1.11, -0.87], [1.15, -0.5], [1.19, -0.27], [1.23, -0.97], [1.28, -0.56], [1.33, -0.8], [1.38, -0.35],
  [1.44, -0.6], [1.5, -0.13], [1.56, -0.95], [1.62, -0.47], [1.68, -0.72], [1.75, -0.16], [1.82, -0.52], [1.89, -0.8],
  [1.97, -0.24], [2.05, -0.97], [2.12, -0.58],
];
const SIM_BAND_CORE = [
  [-1.25, -0.28], [-1.19, -0.72], [-1.11, -0.44], [-1.06, -0.88], [-0.99, -0.16], [-0.95, -0.58], [-0.88, -0.82], [-0.84, -0.33],
  [-0.78, -0.66], [-0.75, -0.21], [-0.69, -0.91], [-0.63, -0.46], [-0.6, -0.75], [-0.54, -0.27], [-0.49, -0.85], [-0.43, -0.63],
  [-0.4, -0.19], [-0.34, -0.71], [-0.31, -0.94], [-0.27, -0.38], [-0.23, -0.66], [-0.18, -0.23], [-0.14, -0.87], [-0.1, -0.55],
  [-0.06, -0.31], [-0.02, -0.79], [0.03, -0.43], [0.05, -0.92], [0.1, -0.24], [0.12, -0.67], [0.17, -0.53], [0.21, -0.86],
  [0.25, -0.36], [0.29, -0.63], [0.33, -0.18], [0.36, -0.95], [0.39, -0.74], [0.43, -0.29], [0.46, -0.52], [0.5, -0.9],
  [0.53, -0.41], [0.56, -0.71], [0.61, -0.25], [0.63, -0.84], [0.67, -0.47], [0.7, -0.6], [0.74, -0.33], [0.79, -0.94],
  [0.81, -0.67], [0.85, -0.22], [0.87, -0.51], [0.92, -0.78], [0.96, -0.4], [0.99, -0.63], [1.04, -0.88], [1.07, -0.3],
  [1.11, -0.7], [-1.22, -0.5], [-1.04, -0.36], [-0.92, -0.95], [-0.8, -0.42], [-0.71, -0.55], [-0.58, -0.96], [-0.47, -0.34],
  [-0.37, -0.52], [-0.24, -0.99], [-0.15, -0.42], [-0.04, -0.68], [0.06, -0.34], [0.16, -0.78], [0.27, -0.45], [0.35, -0.83],
  [0.45, -0.6], [0.54, -0.96], [0.66, -0.36], [0.77, -0.57], [0.89, -0.93], [1.0, -0.5], [1.09, -0.61],
];

// ---------------- styling ----------------
const FONT = '"Liberation Sans", Arial, Helvetica, sans-serif';
const GREEN = "#b6cf26";
const PURPLE = "#a940ad";
const PURPLE_EDGE = "#7f3496";
const BLUE = "#29388f";
const GAIA_COLOR = "#a9555a";
const RV_COLOR = "#609a9a";
const RED = "#ff2626";
const PINK = "rgba(255,190,190,0.95)";
const M2_COLOR = "rgba(246,110,72,0.84)";
const HZ_COLORS = [
  "rgba(244,168,90,0.82)",
  "rgba(240,200,55,0.82)",
  "rgba(238,240,120,0.82)",
  "rgba(108,192,62,0.82)",
  "rgba(118,196,108,0.82)",
];

const toXY = (pairs: number[][]) => pairs.map(([lp, lm]) => ({ x: Math.pow(10, lp), y: Math.pow(10, lm) }));

const lineDs = (data: number[][], color: string, width: number, order: number, extra: any = {}) => ({
  data: toXY(data),
  showLine: true,
  pointRadius: 0,
  borderColor: color,
  borderWidth: width,
  backgroundColor: color,
  fill: false,
  cubicInterpolationMode: "monotone",
  capBezierPoints: false,
  order,
  ...extra,
});

function drawPower(ctx: CanvasRenderingContext2D, exp: number, x: number, baseY: number, align: "center" | "right") {
  const e = String(exp);
  ctx.font = `21px ${FONT}`;
  const w1 = ctx.measureText("10").width;
  ctx.font = `15px ${FONT}`;
  const w2 = ctx.measureText(e).width;
  const total = w1 + 1 + w2;
  const x0 = align === "center" ? x - total / 2 : x - total;
  ctx.textAlign = "left";
  ctx.textBaseline = "alphabetic";
  ctx.font = `21px ${FONT}`;
  ctx.fillText("10", x0, baseY);
  ctx.font = `15px ${FONT}`;
  ctx.fillText(e, x0 + w1 + 1, baseY - 11);
}

function dottedLine(ctx: CanvasRenderingContext2D, x1: number, y1: number, x2: number, y2: number) {
  ctx.save();
  ctx.strokeStyle = "#000";
  ctx.lineWidth = 3.4;
  ctx.lineCap = "round";
  ctx.setLineDash([0.01, 7]);
  ctx.beginPath();
  ctx.moveTo(x1, y1);
  ctx.lineTo(x2, y2);
  ctx.stroke();
  ctx.restore();
}

function rotText(ctx: CanvasRenderingContext2D, text: string, x: number, y: number, angle: number, font: string) {
  ctx.save();
  ctx.translate(x, y);
  ctx.rotate(angle);
  ctx.font = font;
  ctx.fillStyle = "#000";
  ctx.textAlign = "left";
  ctx.textBaseline = "alphabetic";
  ctx.fillText(text, 0, 0);
  ctx.restore();
}

const SOLAR_LABEL_OFFSETS: Record<string, number[]> = {
  V: [-6, -26], E: [-5, -23], M: [11, -26], J: [8, -25], S: [10, -25], U: [-19, -24], N: [-19, -25],
};

const overlayPlugin = {
  id: "discoveryOverlay",
  beforeDraw(chart: any) {
    const ctx = chart.ctx;
    ctx.save();
    ctx.fillStyle = "#fff";
    ctx.fillRect(0, 0, chart.width, chart.height);
    ctx.restore();
  },
  afterDatasetsDraw(chart: any) {
    const ctx: CanvasRenderingContext2D = chart.ctx;
    const xs = chart.scales.x;
    const ys = chart.scales.y;
    const X = (lp: number) => xs.getPixelForValue(Math.pow(10, lp));
    const Y = (lm: number) => ys.getPixelForValue(Math.pow(10, lm));
    const px = (v: number) => xs.getPixelForValue(v);
    const py = (v: number) => ys.getPixelForValue(v);

    const solarLabel = (i: number) => {
      const name = SOLAR_NAMES[i];
      const off = SOLAR_LABEL_OFFSETS[name];
      ctx.save();
      ctx.font = `bold 28px ${FONT}`;
      ctx.fillStyle = BLUE;
      ctx.textAlign = "center";
      ctx.textBaseline = "middle";
      ctx.fillText(name, px(SOLAR_PERIOD[i]) + off[0], py(SOLAR_MASS[i]) + off[1]);
      ctx.restore();
    };
    solarLabel(0);
    solarLabel(1);

    // habitable-zone boxes
    const yTop = py(HZ_MASS_RANGE[1]);
    const yBot = py(HZ_MASS_RANGE[0]);
    ctx.save();
    ctx.strokeStyle = "#1a1a1a";
    ctx.lineWidth = 1;
    const m2l = px(M2_PERIOD_EDGES[0]);
    const m2r = px(M2_PERIOD_EDGES[1]);
    ctx.fillStyle = M2_COLOR;
    ctx.fillRect(m2l, yTop, m2r - m2l, yBot - yTop);
    ctx.strokeRect(m2l, yTop, m2r - m2l, yBot - yTop);
    for (let i = 0; i < HZ_COLORS.length; i++) {
      const l = px(HZ_PERIOD_EDGES[i]);
      const r = px(HZ_PERIOD_EDGES[i + 1]);
      ctx.fillStyle = HZ_COLORS[i];
      ctx.fillRect(l, yTop, r - l, yBot - yTop);
      ctx.strokeRect(l, yTop, r - l, yBot - yTop);
    }
    ctx.restore();

    // reference dotted lines
    const left = chart.chartArea.left;
    const xEnd = px(REF_LINE_END_PERIOD);
    REF_MASS_LINES.forEach((m) => dottedLine(ctx, left + 2, py(m), xEnd, py(m)));
    const tx = px(TIDAL_PERIOD);
    const tyTop = py(TIDAL_MASS_RANGE[1]);
    const tyBot = py(TIDAL_MASS_RANGE[0]);
    dottedLine(ctx, tx, tyTop, tx, tyBot);
    const tip = px(TIDAL_ARROW_TIP);
    ctx.save();
    ctx.strokeStyle = "#000";
    ctx.lineWidth = 1.4;
    ctx.beginPath();
    ctx.moveTo(tx, tyBot);
    ctx.lineTo(tip + 16, tyBot);
    ctx.stroke();
    ctx.fillStyle = "#000";
    ctx.beginPath();
    ctx.moveTo(tip, tyBot);
    ctx.lineTo(tip + 19, tyBot - 7);
    ctx.lineTo(tip + 19, tyBot + 7);
    ctx.closePath();
    ctx.fill();
    ctx.restore();

    // spectral type labels
    ctx.save();
    ctx.font = `51px ${FONT}`;
    ctx.fillStyle = "#000";
    ctx.textAlign = "center";
    ctx.textBaseline = "alphabetic";
    const labelBase = Y(0.108);
    ctx.fillText("M2", (m2l + m2r) / 2, labelBase);
    HZ_LABELS.forEach((t, i) => ctx.fillText(t, px(HZ_LABEL_PERIOD[i]), labelBase));
    ctx.restore();

    // curve annotations
    const ang = (c: number[][], a: number, b: number) =>
      Math.atan2(Y(c[b][1]) - Y(c[a][1]), X(c[b][0]) - X(c[a][0]));
    rotText(ctx, "GAIA (70 µas, 50pc, 100epochs/5yrs)", X(-2.485), Y(4.662), ang(GAIA_CURVE, 0, 1), `bold 31px ${FONT}`);
    rotText(ctx, "RV @ 1 m/s", X(-2.338), Y(0.273), ang(RV_CURVE, 0, 1), `bold 30px ${FONT}`);
    rotText(ctx, "HIP22449", X(1.38), Y(0.367), ang(HIP22449_CURVE, 6, 7), `bold 29px ${FONT}`);
    rotText(ctx, "HIP72659", X(1.578), Y(-0.101), ang(HIP72659_CURVE, 6, 7), `bold 29px ${FONT}`);
    rotText(ctx, "HIP54211", X(1.662), Y(-0.554), ang(HIP54211_CURVE, 1, 2), `bold 29px ${FONT}`);
    rotText(ctx, "Planets ~Tidally Locked", X(-2.481), Y(-0.964), 0, `31px ${FONT}`);

    for (let i = 2; i < SOLAR_NAMES.length; i++) solarLabel(i);
  },
  afterDraw(chart: any) {
    const ctx: CanvasRenderingContext2D = chart.ctx;
    const xs = chart.scales.x;
    const ys = chart.scales.y;
    const { left, right, top, bottom } = chart.chartArea;

    ctx.save();
    ctx.strokeStyle = "#8a8a8a";
    ctx.lineWidth = 1.5;
    ctx.strokeRect(left, top, right - left, bottom - top);

    ctx.strokeStyle = "#7a7a7a";
    ctx.lineWidth = 1;
    ctx.beginPath();
    for (let e = -3; e <= 2; e++) {
      for (let k = 1; k <= 9; k++) {
        const v = k * Math.pow(10, e);
        if (v < X_MIN || v > X_MAX) continue;
        const x = Math.round(xs.getPixelForValue(v)) + 0.5;
        const len = k === 1 ? 9 : 5;
        ctx.moveTo(x, bottom);
        ctx.lineTo(x, bottom - len);
        ctx.moveTo(x, top);
        ctx.lineTo(x, top + len);
      }
    }
    for (let e = -1; e <= 4; e++) {
      for (let k = 1; k <= 9; k++) {
        if (e === 4 && k > 1) continue;
        const v = k * Math.pow(10, e);
        const y = Math.round(ys.getPixelForValue(v)) + 0.5;
        const len = k === 1 ? 9 : 5;
        ctx.moveTo(left, y);
        ctx.lineTo(left + len, y);
        ctx.moveTo(right, y);
        ctx.lineTo(right - len, y);
      }
    }
    ctx.stroke();

    ctx.fillStyle = "#3c3c3c";
    X_TICK_EXPONENTS.forEach((e) => drawPower(ctx, e, xs.getPixelForValue(Math.pow(10, e)), bottom + 36, "center"));
    Y_TICK_EXPONENTS.forEach((e) => drawPower(ctx, e, left - 15, ys.getPixelForValue(Math.pow(10, e)) + 8, "right"));

    const cx = (left + right) / 2;
    ctx.fillStyle = "#1e1e1e";
    ctx.font = `46px ${FONT}`;
    ctx.textAlign = "center";
    ctx.textBaseline = "alphabetic";
    ctx.fillText(TITLE, cx, 45);

    ctx.font = `40px ${FONT}`;
    ctx.fillText(X_TITLE, cx, 1029);

    ctx.save();
    ctx.translate(47, 511);
    ctx.rotate(-Math.PI / 2);
    ctx.textAlign = "left";
    ctx.font = `40px ${FONT}`;
    const wMain = ctx.measureText(Y_TITLE_MAIN).width;
    const wParen = ctx.measureText(")").width;
    ctx.font = `30px ${FONT}`;
    const wSub = ctx.measureText(Y_TITLE_SUB).width;
    const start = -(wMain + wSub + wParen) / 2;
    ctx.font = `40px ${FONT}`;
    ctx.fillText(Y_TITLE_MAIN, start, 0);
    ctx.font = `30px ${FONT}`;
    ctx.fillText(Y_TITLE_SUB, start + wMain, 11);
    ctx.font = `40px ${FONT}`;
    ctx.fillText(")", start + wMain + wSub, 0);
    ctx.restore();

    // legend
    ctx.fillStyle = "#fff";
    ctx.fillRect(457, 86, 498, 106);
    ctx.strokeStyle = "#9a9a9a";
    ctx.lineWidth = 1.5;
    ctx.strokeRect(457, 86, 498, 106);
    const rows = [106, 140, 173];
    const marker = (y: number, r: number, fill: string, edge: string | null) => {
      ctx.beginPath();
      ctx.arc(512, y, r, 0, Math.PI * 2);
      ctx.fillStyle = fill;
      ctx.fill();
      if (edge) {
        ctx.strokeStyle = edge;
        ctx.lineWidth = 1;
        ctx.stroke();
      }
    };
    marker(rows[0], 2.6, GREEN, null);
    marker(rows[1], 6, PURPLE, PURPLE_EDGE);
    marker(rows[2], 6.5, BLUE, null);
    ctx.fillStyle = "#2a2a2a";
    ctx.font = `25px ${FONT}`;
    ctx.textAlign = "left";
    ctx.textBaseline = "middle";
    LEGEND_LABELS.forEach((t, i) => ctx.fillText(t, 558, rows[i] + 1));
    ctx.restore();
  },
};

export default function App() {
  const ref = useRef<HTMLCanvasElement>(null);

  useEffect(() => {
    const canvas = ref.current;
    if (!canvas) return;
    const simAll = [
      ...SIM_HOT, ...SIM_HOT_EXTRA, ...SIM_UPPER_LEFT, ...SIM_CLOUD, ...SIM_CLOUD_EXTRA, ...SIM_MID,
      ...SIM_LOW_LEFT, ...SIM_LOW_MID, ...SIM_RIGHT, ...SIM_BAND_1, ...SIM_BAND_2, ...SIM_BAND_3,
      ...SIM_BAND_4, ...SIM_BAND_5, ...SIM_BAND_6, ...SIM_BAND_CORE,
    ];
    const chart = new Chart(canvas, {
      type: "scatter",
      data: {
        datasets: [
          {
            label: "Solar system planets",
            data: SOLAR_PERIOD.map((p, i) => ({ x: p, y: SOLAR_MASS[i] })),
            pointRadius: 6.5,
            pointBackgroundColor: BLUE,
            pointBorderColor: BLUE,
            pointBorderWidth: 0,
            order: 0,
          },
          {
            label: "Known RV-discovered planets",
            data: toXY(RV_PLANETS),
            pointRadius: 6.3,
            pointBackgroundColor: PURPLE,
            pointBorderColor: PURPLE_EDGE,
            pointBorderWidth: 1,
            order: 1,
          },
          lineDs(GAIA_CURVE, GAIA_COLOR, 5.5, 2),
          lineDs(RV_CURVE, RV_COLOR, 5, 3),
          lineDs(HIP54211_CURVE, RED, 6, 4, { cubicInterpolationMode: "default", tension: 0 }),
          lineDs(HIP22449_CURVE, RED, 6.5, 5, { borderDash: [5, 3] }),
          lineDs(HIP22449_CURVE, PINK, 6.5, 6),
          lineDs(HIP72659_CURVE, RED, 6.5, 5, { borderDash: [5, 3] }),
          lineDs(HIP72659_CURVE, PINK, 6.5, 6),
          {
            label: "Planets from Ida & Lin simulations",
            data: toXY(simAll),
            pointRadius: 2.8,
            pointBackgroundColor: GREEN,
            pointBorderWidth: 0,
            order: 10,
          },
        ] as any,
      },
      options: {
        animation: false,
        responsive: false,
        maintainAspectRatio: false,
        devicePixelRatio: 1,
        events: [],
        layout: { autoPadding: false, padding: { top: 68, right: 3, left: 0, bottom: 0 } },
        plugins: {
          legend: { display: false },
          tooltip: { enabled: false },
          title: { display: false },
        },
        scales: {
          x: {
            type: "logarithmic",
            min: X_MIN,
            max: X_MAX,
            grid: { display: false },
            border: { display: false },
            ticks: { display: false },
            afterFit: (s: any) => {
              s.height = 92;
            },
          },
          y: {
            type: "logarithmic",
            min: Y_MIN,
            max: Y_MAX,
            grid: { display: false },
            border: { display: false },
            ticks: { display: false },
            afterFit: (s: any) => {
              s.width = 134;
            },
          },
        },
      } as any,
      plugins: [overlayPlugin],
    });
    return () => chart.destroy();
  }, []);

  return (
    <div style={{ position: "absolute", left: 0, top: 0, width: 1280, height: 1040, background: "#fff" }}>
      <canvas ref={ref} width={1280} height={1040} style={{ display: "block", width: 1280, height: 1040 }} />
    </div>
  );
}
